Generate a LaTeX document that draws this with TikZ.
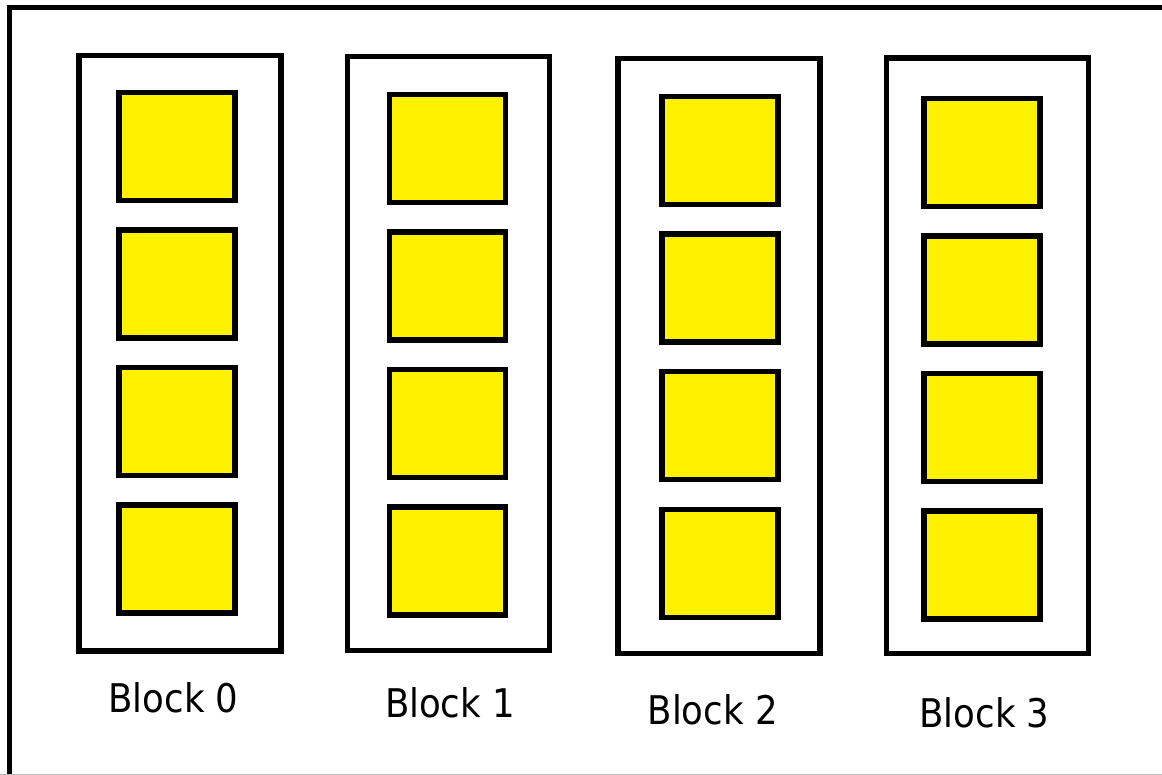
\documentclass[tikz,border=0pt]{standalone}
\usepackage{fontspec}
\setmainfont{DejaVu Sans Condensed}
\definecolor{cellyellow}{HTML}{FFF100}
\definecolor{edgegray}{HTML}{BBBBBB}
\tikzset{
  framebox/.style={draw=black, line width=5pt, fill=none},
  blockbox/.style={draw=black, line width=5.5pt, fill=white, inner sep=0pt, outer sep=0pt, minimum width=202pt, minimum height=595pt},
  cellbox/.style={draw=black, line width=5.5pt, fill=cellyellow, inner sep=0pt, outer sep=0pt, minimum width=116pt, minimum height=108pt},
  blocklabel/.style={anchor=base, inner sep=0pt, font=\fontsize{39.5}{44}\selectfont, text=black}
}
\begin{document}
\begin{tikzpicture}[x=1pt, y=-1pt]
\useasboundingbox (0,0) rectangle (1162,775);
\fill[white] (0,0) rectangle (1162,775);
% outer frame (right and bottom edges lie outside the visible area)
\draw[framebox] (9.5,8) rectangle (1180,795);
\draw[edgegray, line width=1pt] (0,774) -- (1162,774);
% blocks: index / block centre x / centre y / height / cell centre x / first cell top / pitch / label x / label baseline
\foreach \i/\bx/\by/\bh/\cx/\ct/\cp/\lx/\ly in {
  0/180/353.25/595.5/176.75/92.5/137.5/173.5/712,
  1/448.25/353.5/594/447.5/94.5/137.5/450/717.3,
  2/719/356/595/720/96.5/137.6/712.7/724.3,
  3/987.25/355.75/595.5/982/98.5/137.5/984.5/727.7}{
  \node[blockbox, minimum height=\bh pt] (b\i) at (\bx,\by) {};
  \foreach \j in {0,1,2,3}{
    \node[cellbox] (s\i-\j) at (\cx,{\ct+54+\j*\cp}) {};
  }
  \node[blocklabel] (l\i) at (\lx,\ly) {Block \i};
}
\end{tikzpicture}
\end{document}
